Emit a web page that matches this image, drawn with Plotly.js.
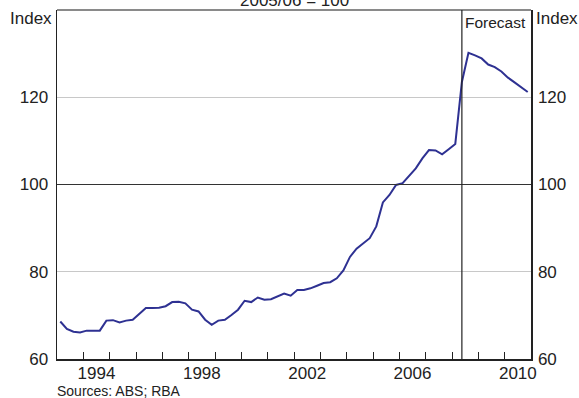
<!DOCTYPE html>
<html>
<head>
<meta charset="utf-8">
<script src="https://cdn.plot.ly/plotly-3.0.1.min.js"></script>
<style>
html,body{margin:0;padding:0;background:#fff;}
#chart{width:579px;height:398px;}
</style>
</head>
<body>
<div id="chart"></div>
<script>
// Quarterly index, 2005/06 = 100, March quarter 1993 to December quarter 2010
const startYear = 1993;
const indexValues = [
  68.6, 66.9, 66.25, 66.1, 66.5, 66.5, 66.5, 68.8,
  68.9, 68.4, 68.8, 69.0, 70.3, 71.7, 71.7, 71.75,
  72.1, 73.05, 73.1, 72.75, 71.3, 70.9, 69.0, 67.85,
  68.8, 69.0, 70.1, 71.3, 73.35, 73.05, 74.1, 73.6,
  73.7, 74.3, 75.0, 74.5, 75.8, 75.8, 76.2, 76.8,
  77.4, 77.6, 78.5, 80.3, 83.4, 85.3, 86.6, 87.7,
  90.4, 95.9, 97.6, 99.9, 100.3, 102.0, 103.7, 106.0,
  107.9, 107.8, 106.9, 108.1, 109.3, 123.5, 130.2, 129.6,
  128.9, 127.5, 126.9, 125.9, 124.5, 123.4, 122.4, 121.2
];
const forecastStart = 2008.375;
const yearTicks = [1993,1994,1995,1996,1997,1998,1999,2000,2001,2002,2003,2004,2005,2006,2007,2008,2009,2010,2011];
const yearLabels = ['1994','1998','2002','2006','2010'];
const yTicks = [60, 80, 100, 120];
const yLabels = ['60', '80', '100', '120'];
const titleText = '2005/06 = 100';
const unitText = 'Index';
const forecastText = 'Forecast';
const sourceText = 'Sources: ABS; RBA';

const quarterPos = indexValues.map((v, i) => startYear + (i + 0.5) / 4);
const labelPos = yearLabels.map(s => Number(s) + 0.5);

const FONT = 'Liberation Sans, Arial, Helvetica, sans-serif';
const TXT = '#222222';
const AX = '#222222';

const traces = [
  {
    type: 'scatter', mode: 'lines',
    x: quarterPos, y: indexValues,
    line: {color: '#2e3192', width: 2},
    xaxis: 'x', yaxis: 'y', hoverinfo: 'skip'
  },
  {
    // carrier trace so the label axes (bottom labels, right scale) are drawn
    type: 'scatter', mode: 'lines',
    x: quarterPos, y: indexValues,
    line: {color: 'rgba(0,0,0,0)', width: 0},
    xaxis: 'x2', yaxis: 'y2', hoverinfo: 'skip'
  }
];

const layout = {
  width: 579, height: 398,
  margin: {l: 57, r: 48, t: 10, b: 39, pad: 0},
  paper_bgcolor: '#ffffff', plot_bgcolor: '#ffffff',
  showlegend: false,
  font: {family: FONT, size: 16, color: TXT},
  xaxis: {
    range: [1993, 2011], tickmode: 'array', tickvals: yearTicks,
    ticktext: yearTicks.map(() => ''),
    ticks: 'inside', ticklen: 7, tickwidth: 1, tickcolor: AX,
    showline: true, linecolor: AX, linewidth: 1.5,
    showgrid: false, zeroline: false, fixedrange: true
  },
  xaxis2: {
    overlaying: 'x', anchor: 'y2', side: 'bottom',
    range: [1993, 2011], tickmode: 'array', tickvals: labelPos, ticktext: yearLabels,
    ticks: '', showline: false, showgrid: false, zeroline: false,
    tickfont: {family: FONT, size: 17, color: TXT}, ticklabelstandoff: 2
  },
  yaxis: {
    range: [60, 140], tickmode: 'array', tickvals: yTicks, ticktext: yLabels,
    ticks: '', showline: true, linecolor: AX, linewidth: 1.5,
    showgrid: true, gridcolor: '#c8c8c8', gridwidth: 1, zeroline: false,
    tickfont: {family: FONT, size: 17, color: TXT}, ticklabelstandoff: 4
  },
  yaxis2: {
    overlaying: 'y', side: 'right', anchor: 'x2',
    range: [60, 140], tickmode: 'array', tickvals: yTicks, ticktext: yLabels,
    ticks: '', showline: true, linecolor: AX, linewidth: 1.5,
    showgrid: false, zeroline: false,
    tickfont: {family: FONT, size: 17, color: TXT}, ticklabelstandoff: 2
  },
  shapes: [
    {type: 'line', xref: 'paper', yref: 'y', x0: 0, x1: 1, y0: 100, y1: 100,
     line: {color: '#333333', width: 1.2}},
    {type: 'line', xref: 'paper', yref: 'paper', x0: 0, x1: 1, y0: 1, y1: 1,
     line: {color: '#8a8a8a', width: 2}},
    {type: 'line', xref: 'x', yref: 'paper', x0: forecastStart, x1: forecastStart, y0: 0, y1: 1,
     line: {color: '#222222', width: 1.2}}
  ],
  annotations: [
    {text: titleText, xref: 'paper', yref: 'paper', x: 0.5, y: 1, xanchor: 'center', yanchor: 'middle',
     yshift: 10, showarrow: false, font: {family: FONT, size: 17, color: TXT}},
    {text: unitText, xref: 'paper', yref: 'paper', x: 0, y: 1, xanchor: 'right', yanchor: 'middle',
     xshift: -3, yshift: -8, showarrow: false, font: {family: FONT, size: 17, color: TXT}},
    {text: unitText, xref: 'paper', yref: 'paper', x: 1, y: 1, xanchor: 'left', yanchor: 'middle',
     xshift: 3, yshift: -8, showarrow: false, font: {family: FONT, size: 17, color: TXT}},
    {text: forecastText, xref: 'x', yref: 'paper', x: forecastStart, y: 1, xanchor: 'left', yanchor: 'middle',
     xshift: 1, yshift: -12, showarrow: false, font: {family: FONT, size: 15.5, color: TXT}},
    {text: sourceText, xref: 'paper', yref: 'paper', x: 0, y: 0, xanchor: 'left', yanchor: 'middle',
     xshift: -2, yshift: -32, showarrow: false, font: {family: FONT, size: 14, color: TXT}}
  ]
};

Plotly.newPlot('chart', traces, layout, {staticPlot: true, displayModeBar: false});
</script>
</body>
</html>
